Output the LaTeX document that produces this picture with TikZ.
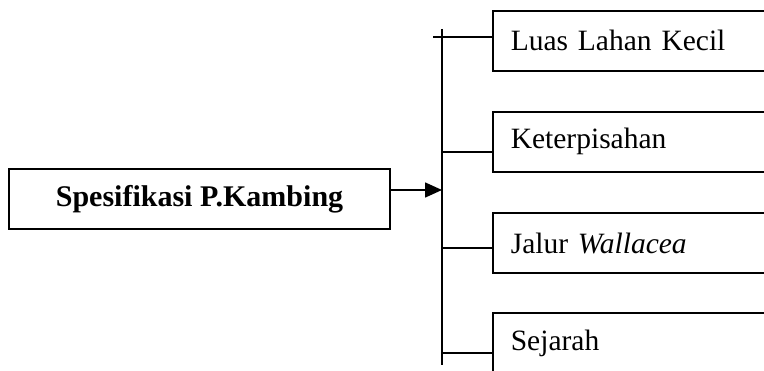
\documentclass[tikz,border=0pt]{standalone}
\usepackage{fontspec}
\setmainfont{Liberation Serif}
\usetikzlibrary{positioning, arrows.meta}

\begin{document}
\begin{tikzpicture}[
  x=1pt, y=-1pt,
  >={Triangle[length=17pt, width=15pt]},
  line width=1.6pt,
  every node/.style={font=\fontsize{29.5pt}{36pt}\selectfont},
  mainbox/.style={draw, minimum width=381pt, minimum height=60pt, inner sep=0pt},
  itembox/.style={draw, inner xsep=18pt, inner ysep=0pt, text width=284pt, minimum height=60pt, align=left},
]
\useasboundingbox (0,0) rectangle (764,371);
\clip (0,0) rectangle (764,371);

% Left: main box
\node[mainbox, font=\fontsize{30pt}{36pt}\selectfont\bfseries] (spec) at (199.5,199) {Spesifikasi P.Kambing};

% Right: item boxes (running off the right edge)
\node[itembox, anchor=north west] (luas) at (492,10) {Luas Lahan Kecil};
\node[itembox, below=39.5pt of luas] (pisah) {Keterpisahan};
\node[itembox, below=39.5pt of pisah] (jalur) {Jalur \textit{Wallacea}};
\node[itembox, below=38.5pt of jalur] (sejarah) {Sejarah};

% Spine
\coordinate (spinetop) at (442,29);
\coordinate (spinebot) at (442,365);
\coordinate (tick) at (433,36);
\draw (spinetop) -- (spinebot);

% Branches
\draw ([yshift=4pt]luas.west) -- ([yshift=4pt]luas.west -| tick);
\draw ([yshift=-10pt]pisah.west) -- ([yshift=-10pt]pisah.west -| spinetop);
\draw ([yshift=-5pt]jalur.west) -- ([yshift=-5pt]jalur.west -| spinetop);
\draw ([yshift=-10pt]sejarah.west) -- ([yshift=-10pt]sejarah.west -| spinetop);

% Arrow into spine
\draw[->] ([yshift=9pt]spec.east) -- ([yshift=9pt]spec.east -| spinetop);
\end{tikzpicture}
\end{document}
